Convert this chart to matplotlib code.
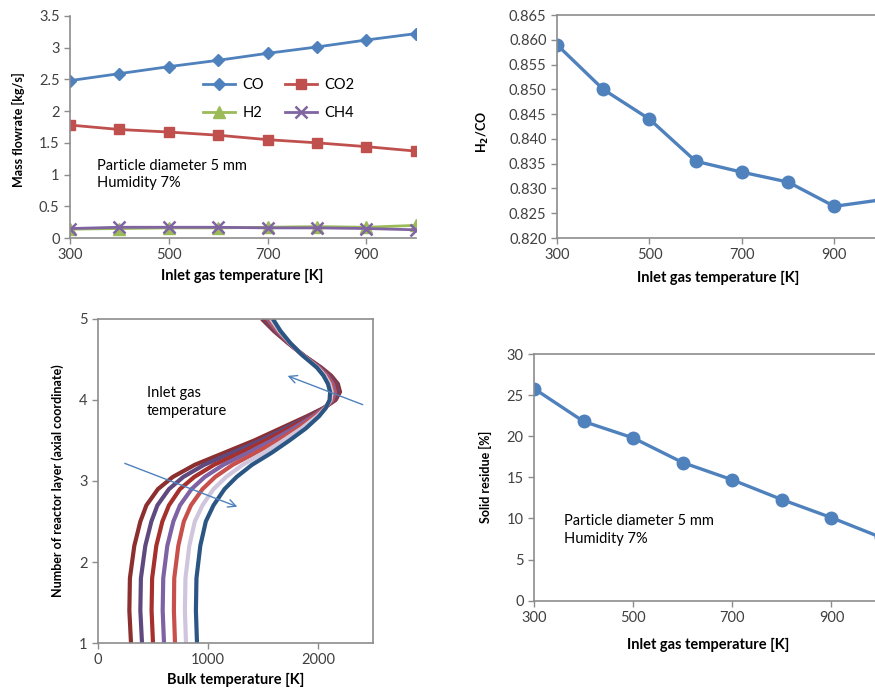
import numpy as np
import matplotlib
matplotlib.use('Agg')
import matplotlib.pyplot as plt
from matplotlib.ticker import FuncFormatter, MultipleLocator

plt.rcParams['font.family'] = ['Lato', 'DejaVu Sans']

# inlet gas temperatures [K]
inlet_T = [300, 400, 500, 600, 700, 800, 900, 1000]
x_ticks = [300, 500, 700, 900]

# top-left: gas mass flowrates [kg/s]
co = [2.48, 2.59, 2.70, 2.80, 2.91, 3.01, 3.12, 3.22]
co2 = [1.78, 1.71, 1.67, 1.62, 1.55, 1.50, 1.44, 1.37]
h2 = [0.14, 0.15, 0.16, 0.16, 0.17, 0.18, 0.17, 0.20]
ch4 = [0.15, 0.17, 0.17, 0.17, 0.16, 0.16, 0.15, 0.13]

# top-right: H2/CO ratio
h2_co = [0.859, 0.850, 0.844, 0.8355, 0.8333, 0.8313, 0.8264, 0.8277]

# bottom-right: solid residue [%]
residue = [25.8, 21.8, 19.8, 16.8, 14.7, 12.3, 10.1, 7.7]

# bottom-left: bulk temperature profiles along the reactor, one per inlet T
layers = [1.0, 1.4, 1.8, 2.2, 2.5, 2.7, 2.9, 3.05, 3.2, 3.35, 3.5, 3.65, 3.8,
          3.9, 4.0, 4.1, 4.2, 4.3, 4.4, 4.55, 4.7, 4.85, 5.0]
profile_T = [300, 400, 500, 600, 700, 800, 900]
bulk = [
    [300, 285, 290, 330, 385, 440, 545, 680, 880, 1150, 1420, 1660, 1900,
     2050, 2160, 2200, 2180, 2120, 2030, 1870, 1730, 1600, 1490],
    [400, 385, 390, 430, 485, 540, 645, 775, 965, 1220, 1475, 1700, 1920,
     2053, 2151, 2185, 2165, 2108, 2023, 1868, 1733, 1610, 1507],
    [500, 487, 492, 530, 585, 645, 745, 875, 1055, 1295, 1525, 1735, 1937,
     2057, 2142, 2170, 2150, 2097, 2017, 1867, 1737, 1620, 1523],
    [600, 588, 593, 630, 685, 745, 850, 970, 1140, 1365, 1580, 1775, 1955,
     2060, 2132, 2155, 2135, 2085, 2010, 1865, 1740, 1630, 1540],
    [700, 690, 693, 730, 780, 845, 950, 1065, 1225, 1435, 1635, 1815, 1973,
     2063, 2123, 2140, 2120, 2073, 2003, 1863, 1743, 1640, 1557],
    [800, 790, 795, 830, 880, 950, 1050, 1165, 1315, 1510, 1685, 1850, 1992,
     2067, 2114, 2125, 2105, 2062, 1997, 1862, 1747, 1650, 1573],
    [900, 890, 895, 930, 980, 1050, 1150, 1260, 1400, 1580, 1740, 1890, 2010,
     2070, 2105, 2110, 2090, 2050, 1990, 1860, 1750, 1660, 1590],
]
bulk_colors = ['#8B2F2F', '#5F4A80', '#A5302C', '#7E62A3', '#C8504C', '#CFC6DD', '#2B5684']

blue = '#4F81BD'
spine_c = '#8C8C8C'
tick_c = '#404040'
fmt_g = FuncFormatter(lambda v, p: '%g' % round(v, 6))

fig = plt.figure(figsize=(8.75, 6.9), dpi=100)


def style(ax, spines):
    for s in ['top', 'right', 'left', 'bottom']:
        ax.spines[s].set_visible(s in spines)
        ax.spines[s].set_color(spine_c)
        ax.spines[s].set_linewidth(1.2)
    ax.tick_params(direction='out', length=4, width=1, color=spine_c,
                   labelsize=10.5, labelcolor=tick_c)


# --- top left ---
ax1 = fig.add_axes([0.080, 0.655, 0.395, 0.322])
l_co, = ax1.plot(inlet_T, co, color=blue, marker='D', ms=6.5, lw=2, label='CO')
l_co2, = ax1.plot(inlet_T, co2, color='#C0504D', marker='s', ms=7.5, lw=2, label='CO2')
l_h2, = ax1.plot(inlet_T, h2, color='#9BBB59', marker='^', ms=8, lw=2, label='H2')
l_ch4, = ax1.plot(inlet_T, ch4, color='#8064A2', marker='x', ms=8, mew=1.8, lw=2, label='CH4')
ax1.set_xlim(300, 1000)
ax1.set_ylim(0, 3.5)
ax1.set_xticks(x_ticks)
ax1.yaxis.set_major_locator(MultipleLocator(0.5))
ax1.yaxis.set_major_formatter(fmt_g)
style(ax1, ['left', 'bottom'])
ax1.legend([l_co, l_h2, l_co2, l_ch4], ['CO', 'H2', 'CO2', 'CH4'], ncol=2,
           frameon=False, loc='center', bbox_to_anchor=(0.604, 0.626),
           fontsize=10.5, handlelength=2.2, columnspacing=1.4, labelspacing=1.0,
           handletextpad=0.5)
ax1.text(0.078, 0.355, 'Particle diameter 5 mm\nHumidity 7%', transform=ax1.transAxes,
         va='top', ha='left', fontsize=10.5, linespacing=1.3)
ax1.set_xlabel('Inlet gas temperature [K]', fontweight='bold', fontsize=10.5, va='center')
ax1.xaxis.set_label_coords(0.497, -0.171)
ax1.set_ylabel('Mass flowrate [kg/s]', fontweight='bold', fontsize=9, va='center')
ax1.yaxis.set_label_coords(-0.150, 0.486)

# --- top right ---
ax2 = fig.add_axes([0.6366, 0.655, 0.3697, 0.3232])
ax2.plot(inlet_T, h2_co, color=blue, marker='o', ms=9, lw=2.4)
ax2.set_xlim(300, 1000)
ax2.set_ylim(0.82, 0.865)
ax2.set_xticks(x_ticks)
ax2.yaxis.set_major_locator(MultipleLocator(0.005))
ax2.yaxis.set_major_formatter(FuncFormatter(lambda v, p: '%.3f' % v))
style(ax2, ['left', 'bottom', 'top'])
ax2.set_xlabel('Inlet gas temperature [K]', fontweight='bold', fontsize=10.5, va='center')
ax2.xaxis.set_label_coords(0.499, -0.179)
ax2.set_ylabel(r'H$_\mathbf{2}$/CO', fontweight='bold', fontsize=9, va='center')
ax2.yaxis.set_label_coords(-0.229, 0.475)

# --- bottom left ---
ax3 = fig.add_axes([0.112, 0.0681, 0.3143, 0.4696])
for vals, c in zip(bulk, bulk_colors):
    ax3.plot(vals, layers, color=c, lw=3.0, solid_capstyle='butt', solid_joinstyle='round')
ax3.set_xlim(0, 2500)
ax3.set_ylim(1, 5)
ax3.xaxis.set_major_locator(MultipleLocator(1000))
ax3.yaxis.set_major_locator(MultipleLocator(1))
style(ax3, ['left', 'bottom', 'top', 'right'])
ax3.annotate('', xy=(1290, 2.67), xytext=(220, 3.23),
             arrowprops=dict(arrowstyle='->', color=blue, lw=1, mutation_scale=14))
ax3.annotate('', xy=(1700, 4.31), xytext=(2430, 3.93),
             arrowprops=dict(arrowstyle='->', color=blue, lw=1, mutation_scale=14))
ax3.text(445, 4.17, 'Inlet gas\ntemperature', ha='left', va='top', fontsize=10.5,
         linespacing=1.3)
ax3.set_xlabel('Bulk temperature [K]', fontweight='bold', fontsize=10.5, va='center')
ax3.xaxis.set_label_coords(0.5, -0.114)
ax3.set_ylabel('Number of reactor layer (axial coordinate)', fontweight='bold',
               fontsize=9, va='center')
ax3.yaxis.set_label_coords(-0.145, 0.5)

# --- bottom right ---
ax4 = fig.add_axes([0.6103, 0.1294, 0.3966, 0.3575])
ax4.plot(inlet_T, residue, color=blue, marker='o', ms=9, lw=2.4)
ax4.set_xlim(300, 1000)
ax4.set_ylim(0, 30)
ax4.set_xticks(x_ticks)
ax4.yaxis.set_major_locator(MultipleLocator(5))
style(ax4, ['left', 'bottom', 'top'])
ax4.text(0.0865, 0.35, 'Particle diameter 5 mm\nHumidity 7%', transform=ax4.transAxes,
         va='top', ha='left', fontsize=10.5, linespacing=1.3)
ax4.set_xlabel('Inlet gas temperature [K]', fontweight='bold', fontsize=10.5, va='center')
ax4.xaxis.set_label_coords(0.501, -0.18)
ax4.set_ylabel('Solid residue [%]', fontweight='bold', fontsize=9, va='center')
ax4.yaxis.set_label_coords(-0.141, 0.503)

fig.savefig('out.png', dpi=100)
